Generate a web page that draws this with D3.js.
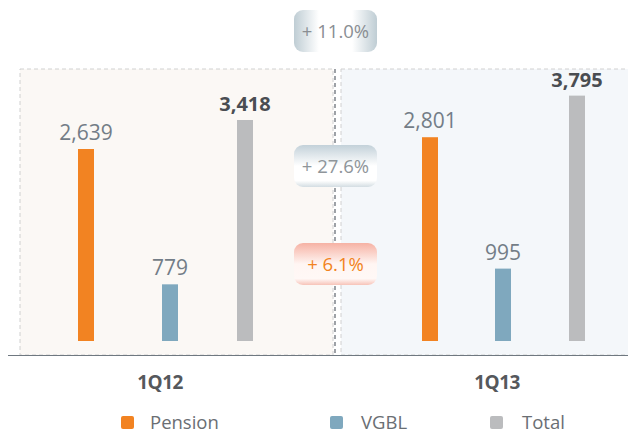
<!DOCTYPE html>
<html><head><meta charset="utf-8">
<script src="https://cdn.jsdelivr.net/npm/d3@7"></script>
<style>body{margin:0;background:#fff}svg{display:block}text{font-family:"Open Sans","Noto Sans",sans-serif}</style>
</head><body>
<script>
const periods = ["1Q12", "1Q13"];
const seriesNames = ["Pension", "VGBL", "Total"];
const pension = [2639, 2801];
const vgbl = [779, 995];
const total = [3418, 3795];
const growthLabels = ["+ 11.0%", "+ 27.6%", "+ 6.1%"];
const colors = ["#f28322", "#7fa8be", "#bbbcbe"];

const W = 628, H = 433;
const svg = d3.select("body").append("svg").attr("width", W).attr("height", H);
const defs = svg.append("defs");

const base = 341;
const yPart = d3.scaleLinear().domain([0, 2639]).range([base, 149]);
const yTot = d3.scaleLinear().domain([0, 3418]).range([base, 120]);

const xSeries = d3.scaleOrdinal().domain(seriesNames).range([86, 170, 245]);
const xSeries2 = d3.scaleOrdinal().domain(seriesNames).range([430, 503, 577]);

// panels
const panelFill = ["#fbf8f5", "#f4f7fa"];
svg.append("rect").attr("x", 20).attr("y", 69).attr("width", 313).attr("height", 286)
  .attr("fill", panelFill[0]).attr("stroke", "#d0d0d0").attr("stroke-dasharray", "4,3");
svg.append("rect").attr("x", 341).attr("y", 69).attr("width", 300).attr("height", 286)
  .attr("fill", panelFill[1]).attr("stroke", "#d0d0d0").attr("stroke-dasharray", "4,3");
// center dashed line
svg.append("line").attr("x1", 335).attr("x2", 335).attr("y1", 69).attr("y2", 355)
  .attr("stroke", "#6b7078").attr("stroke-width", 1.3).attr("stroke-dasharray", "4,3");
// axis
svg.append("line").attr("x1", 8).attr("x2", 628).attr("y1", 355.5).attr("y2", 355.5)
  .attr("stroke", "#6f7880").attr("stroke-width", 1.2);

const bw = 16;
const groups = [xSeries, xSeries2];
periods.forEach((p, i) => {
  const vals = [pension[i], vgbl[i], total[i]];
  const g = svg.append("g");
  seriesNames.forEach((s, j) => {
    const sc = j === 2 ? yTot : yPart;
    const cx = groups[i](s);
    g.append("rect").attr("x", cx - bw / 2).attr("y", sc(vals[j])).attr("width", bw)
      .attr("height", base - sc(vals[j])).attr("fill", colors[j]);
    g.append("text").attr("x", cx).attr("y", sc(vals[j]) - 9)
      .attr("text-anchor", "middle")
      .attr("font-size", j === 2 ? 20 : 21)
      .attr("font-weight", j === 2 ? 700 : 400)
      .attr("fill", j === 2 ? "#4a4d52" : "#737d87")
      .text(d3.format(",")(vals[j]));
  });
});

// period labels
[160, 497].forEach((x, i) => {
  svg.append("text").attr("x", x).attr("y", 389).attr("text-anchor", "middle")
    .attr("font-size", 19).attr("font-weight", 700).attr("fill", "#55585c")
    .attr("letter-spacing", -0.5).text(periods[i]);
});

// legend
const legX = [121, 330, 490];
const legTX = [150, 361, 522];
seriesNames.forEach((s, j) => {
  svg.append("rect").attr("x", legX[j]).attr("y", 416).attr("width", 13).attr("height", 13)
    .attr("rx", 2).attr("fill", colors[j]);
  svg.append("text").attr("x", legTX[j]).attr("y", 429).attr("font-size", 18.5)
    .attr("fill", "#6a6e73").text(s);
});

// badges
function grad(id, horiz, stops) {
  const gr = defs.append("linearGradient").attr("id", id)
    .attr("x1", 0).attr("y1", 0).attr("x2", horiz ? 1 : 0).attr("y2", horiz ? 0 : 1);
  stops.forEach(([o, c]) => gr.append("stop").attr("offset", o).attr("stop-color", c));
}
grad("g0", true, [[0, "#bfcdd4"], [0.3, "#ffffff"], [0.7, "#ffffff"], [1, "#bfcdd4"]]);
grad("g1", false, [[0, "#c3d1d9"], [0.5, "#ffffff"], [0.85, "#ffffff"], [1, "#d3dde2"]]);
grad("g2", false, [[0, "#f6b2a4"], [0.5, "#fff6f3"], [0.85, "#fff8f6"], [1, "#f7c3b8"]]);
const badgeY = [10, 145, 243];
const badgeText = ["#8a8e93", "#8f959a", "#f28322"];
growthLabels.forEach((t, k) => {
  svg.append("rect").attr("x", 294).attr("y", badgeY[k]).attr("width", 83).attr("height", 42)
    .attr("rx", 9).attr("fill", "url(#g" + k + ")");
  svg.append("text").attr("x", 335.5).attr("y", badgeY[k] + 28).attr("text-anchor", "middle")
    .attr("font-size", 18.5).attr("fill", badgeText[k]).text(t);
});
</script>
</body></html>
